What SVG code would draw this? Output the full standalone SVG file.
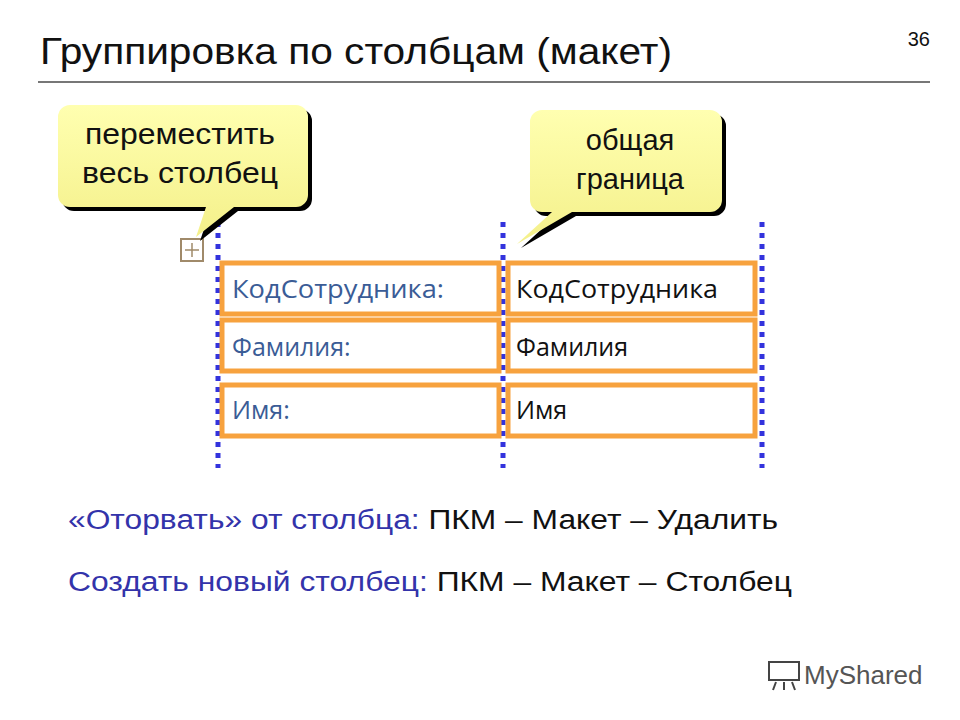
<svg xmlns="http://www.w3.org/2000/svg" width="960" height="720" viewBox="0 0 960 720">
<style>
text{font-family:"Liberation Sans",Arial,sans-serif}
.dot{stroke:#3333dd;stroke-width:5;stroke-dasharray:5 6;fill:none}
.fld{fill:#fff;stroke:#f7a23e;stroke-width:5}
.lbl{font-family:"Open Sans",sans-serif;font-size:25px;fill:#3a5c96}
.val{font-family:"Open Sans",sans-serif;font-size:25px;fill:#111}
.call{fill:url(#yg)}
.ct{font-size:29px;fill:#111;text-anchor:middle}
</style>
<defs>
<linearGradient id="yg" x1="0" y1="0" x2="0" y2="1"><stop offset="0" stop-color="#ffffb0"/><stop offset="1" stop-color="#f4f08a"/></linearGradient>
</defs>
<rect width="960" height="720" fill="#fff"/>
<g id="title">
<text x="40" y="64" font-size="36" fill="#111" textLength="632" lengthAdjust="spacingAndGlyphs">Группировка по столбцам (макет)</text>
<text x="930" y="46" font-size="20" fill="#111" text-anchor="end">36</text>
<line x1="38" y1="82" x2="930" y2="82" stroke="#777" stroke-width="2"/>
</g>
<g id="connectors">
<line class="dot" x1="218" y1="222" x2="218" y2="468"/>
<line class="dot" x1="503" y1="222" x2="503" y2="468"/>
<line class="dot" x1="762" y1="222" x2="762" y2="468"/>
</g>
<g id="col1">
<rect class="fld" x="222" y="263" width="277" height="51"/>
<rect class="fld" x="222" y="320" width="277" height="51"/>
<rect class="fld" x="222" y="385" width="277" height="51"/>
<text class="lbl" x="232" y="298" textLength="212" lengthAdjust="spacingAndGlyphs">КодСотрудника:</text>
<text class="lbl" x="232" y="356">Фамилия:</text>
<text class="lbl" x="232" y="419">Имя:</text>
</g>
<g id="col2">
<rect class="fld" x="508" y="263" width="247" height="51"/>
<rect class="fld" x="508" y="320" width="247" height="51"/>
<rect class="fld" x="508" y="385" width="247" height="51"/>
<text class="val" x="516" y="298" textLength="202" lengthAdjust="spacingAndGlyphs">КодСотрудника</text>
<text class="val" x="516" y="356">Фамилия</text>
<text class="val" x="516" y="419">Имя</text>
</g>
<g id="move-icon">
<rect x="181" y="239" width="22" height="22" fill="#fff" stroke="#a08a6a" stroke-width="2"/>
<path d="M192 243v14M185 250h14" stroke="#a08a6a" stroke-width="1.5"/>
</g>
<g id="callout1">
<path d="M70 105h226a12 12 0 0 1 12 12v78a12 12 0 0 1-12 12h-62l-38 30 10-30h-136a12 12 0 0 1-12-12v-78a12 12 0 0 1 12-12z" fill="#000" transform="translate(4,4)"/>
<path d="M70 105h226a12 12 0 0 1 12 12v78a12 12 0 0 1-12 12h-62l-38 30 10-30h-136a12 12 0 0 1-12-12v-78a12 12 0 0 1 12-12z" class="call"/>
<text class="ct" x="180" y="144" textLength="190" lengthAdjust="spacingAndGlyphs">переместить</text>
<text class="ct" x="180" y="183" textLength="196" lengthAdjust="spacingAndGlyphs">весь столбец</text>
</g>
<g id="callout2">
<path d="M554 110h156a12 12 0 0 1 12 12v78a12 12 0 0 1-12 12h-138l-55 32 35-32h-10a12 12 0 0 1-12-12v-78a12 12 0 0 1 12-12z" fill="#000" transform="translate(4,4)"/>
<path d="M554 110h156a12 12 0 0 1 12 12v78a12 12 0 0 1-12 12h-138l-55 32 35-32h-10a12 12 0 0 1-12-12v-78a12 12 0 0 1 12-12z" class="call"/>
<text class="ct" x="630" y="150">общая</text>
<text class="ct" x="630" y="189">граница</text>
</g>
<g id="notes">
<text x="68" y="529" font-size="27" textLength="710" lengthAdjust="spacingAndGlyphs"><tspan fill="#3333aa">«Оторвать» от столбца:</tspan><tspan fill="#111"> ПКМ – Макет – Удалить</tspan></text>
<text x="68" y="591" font-size="27" textLength="724" lengthAdjust="spacingAndGlyphs"><tspan fill="#3333aa">Создать новый столбец:</tspan><tspan fill="#111"> ПКМ – Макет – Столбец</tspan></text>
</g>
<g id="logo">
<rect x="769" y="662" width="30" height="18" fill="none" stroke="#444" stroke-width="2"/>
<path d="M776 682l-3 8M784 682v8M792 682l3 8" stroke="#444" stroke-width="2"/>
<text x="804" y="684" font-size="26" fill="#555" font-family="'Open Sans',sans-serif">MyShared</text>
</g>
</svg>
